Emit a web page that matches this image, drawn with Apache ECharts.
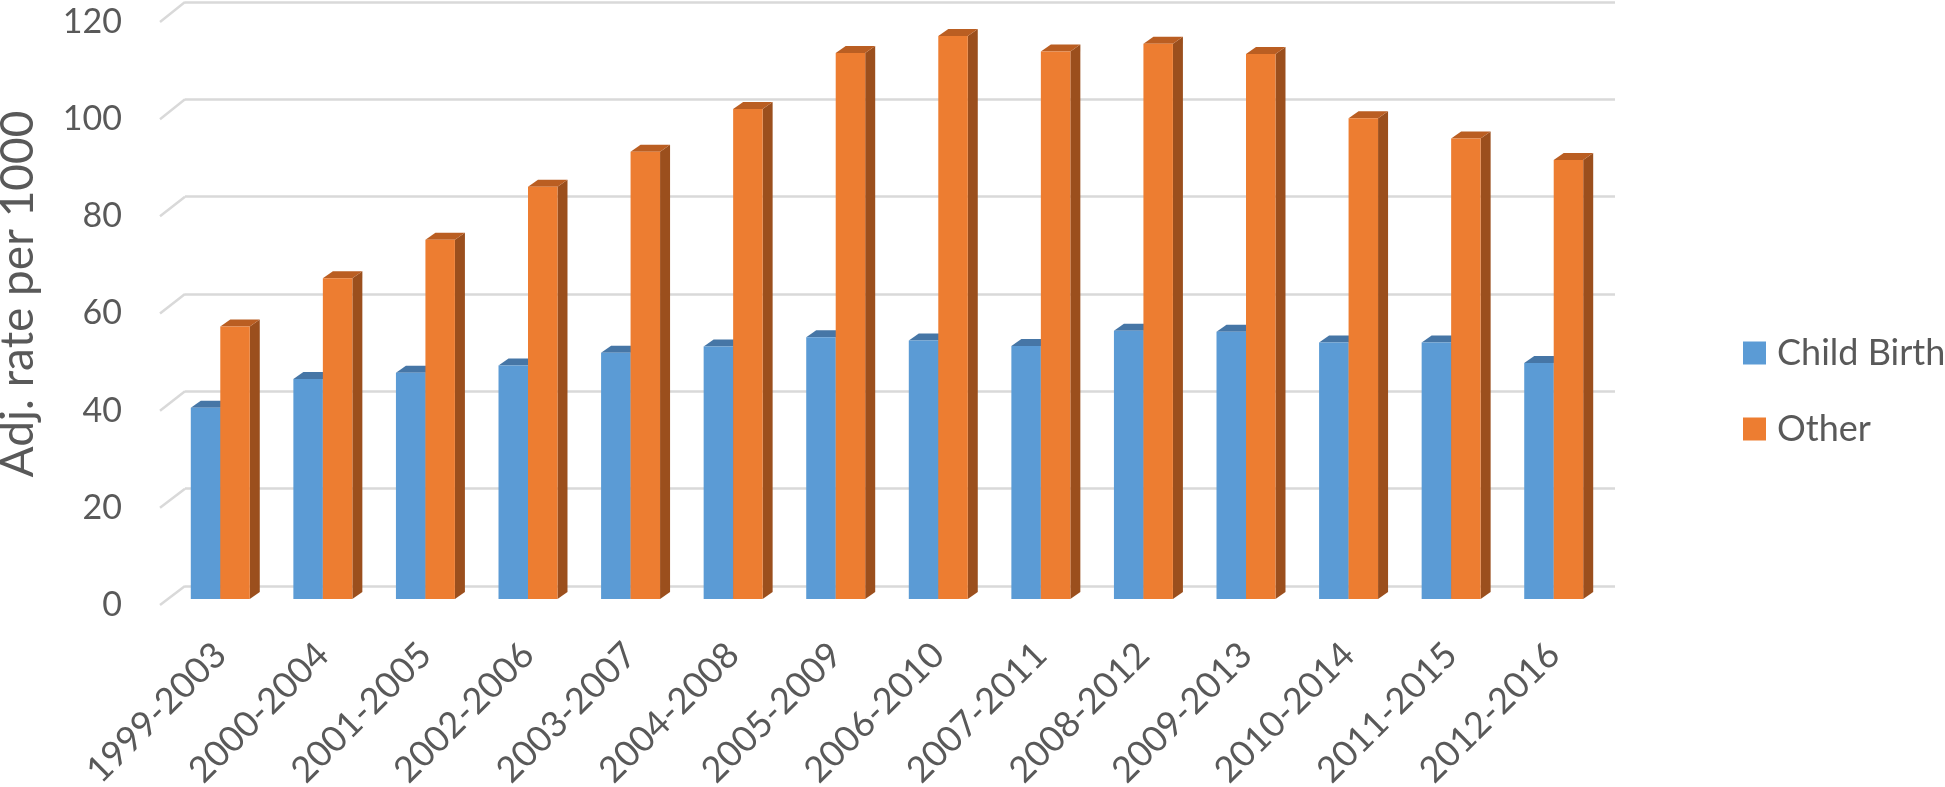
<!DOCTYPE html>
<html>
<head>
<meta charset="utf-8">
<title>Adj. rate per 1000</title>
<script src="https://cdn.jsdelivr.net/npm/echarts@6/dist/echarts.min.js"></script>
<style>
  html, body { margin: 0; padding: 0; background: #ffffff; }
  #chart { width: 1945px; height: 787px; }
</style>
</head>
<body>
<div id="chart"></div>
<script>
// data
const periods = [
  "1999-2003", "2000-2004", "2001-2005", "2002-2006", "2003-2007", "2004-2008", "2005-2009",
  "2006-2010", "2007-2011", "2008-2012", "2009-2013", "2010-2014", "2011-2015", "2012-2016"
];
const childBirth = [39.3, 45.2, 46.5, 48.0, 50.6, 51.9, 53.8, 53.1, 52.0, 55.1, 54.9, 52.7, 52.7, 48.5];
const other = [56.0, 65.9, 73.8, 84.7, 91.9, 100.7, 112.2, 115.7, 112.5, 114.1, 112.0, 98.8, 94.6, 90.2];
const yTicks = [0, 20, 40, 60, 80, 100, 120];

const FONT = "Lato";
const TEXT = "#595959";
const GRID_LINE = "#D9D9D9";

// 3d-ish look of the excel columns
const DEPTH_X = 10;
const DEPTH_Y = 7;
const BAR_RATIO = 0.2875;

const blueFaces = { front: "#5B9BD5", top: "#4676A6", side: "#3E6B96" };
const orangeFaces = { front: "#ED7D31", top: "#BA5E22", side: "#9B4F1D" };

function boxRenderer(toLeft, faces) {
  return function (params, api) {
    const cat = api.value(0);
    const topPt = api.coord([cat, api.value(1)]);
    const basePt = api.coord([cat, 0]);
    const w = api.size([1, 0])[0] * BAR_RATIO;
    const x0 = toLeft ? topPt[0] - w : topPt[0];
    const x1 = x0 + w;
    const y0 = topPt[1];
    const y1 = basePt[1];
    return {
      type: "group",
      children: [
        {
          type: "polygon",
          shape: { points: [[x1, y1], [x1, y0], [x1 + DEPTH_X, y0 - DEPTH_Y], [x1 + DEPTH_X, y1 - DEPTH_Y]] },
          style: { fill: faces.side }
        },
        {
          type: "polygon",
          shape: { points: [[x0, y0], [x1, y0], [x1 + DEPTH_X, y0 - DEPTH_Y], [x0 + DEPTH_X, y0 - DEPTH_Y]] },
          style: { fill: faces.top }
        },
        {
          type: "rect",
          shape: { x: x0, y: y0, width: w, height: y1 - y0 },
          style: { fill: faces.front }
        }
      ]
    };
  };
}

const chart = echarts.init(document.getElementById("chart"));

const option = {
  animation: false,
  backgroundColor: "#ffffff",
  color: [blueFaces.front, orangeFaces.front],
  textStyle: { fontFamily: FONT },
  grid: [
    // bars
    { left: 169, right: 340, top: 15, bottom: 188, outerBoundsMode: "none" },
    // back wall with the gridlines
    { left: 185, right: 330, top: 2, bottom: 201, outerBoundsMode: "none" },
    // front edge carrying the tick labels
    { left: 160, right: 330, top: 22, bottom: 182, outerBoundsMode: "none" }
  ],
  legend: {
    orient: "vertical",
    left: 1738,
    top: 328,
    icon: "rect",
    itemWidth: 23,
    itemHeight: 23,
    itemGap: 36,
    textStyle: { fontFamily: FONT, fontSize: 36, color: TEXT, lineHeight: 40, padding: [0, 0, 0, 6] },
    data: ["Child Birth", "Other"]
  },
  xAxis: [
    {
      gridIndex: 0,
      type: "category",
      data: periods,
      axisLine: { show: false },
      axisTick: { show: false },
      axisLabel: {
        interval: 0,
        rotate: 45,
        margin: 50,
        fontFamily: FONT,
        fontSize: 36,
        color: TEXT
      }
    },
    { gridIndex: 1, type: "value", show: false },
    { gridIndex: 2, type: "value", show: false }
  ],
  yAxis: [
    { gridIndex: 0, type: "value", min: 0, max: 120, interval: 20, show: false },
    {
      gridIndex: 1,
      type: "value",
      min: 0,
      max: 120,
      interval: 20,
      name: "Adj. rate per 1000",
      nameLocation: "middle",
      nameGap: 144,
      nameRotate: 90,
      nameTextStyle: { fontFamily: FONT, fontSize: 46, color: TEXT },
      axisLine: { show: false },
      axisTick: { show: false },
      axisLabel: { show: false },
      splitLine: { show: true, lineStyle: { color: GRID_LINE, width: 2.5 } }
    },
    {
      gridIndex: 2,
      type: "value",
      min: 0,
      max: 120,
      interval: 20,
      axisLine: { show: false },
      axisTick: { show: false },
      splitLine: { show: false },
      axisLabel: { margin: 38, fontFamily: FONT, fontSize: 34, color: TEXT }
    }
  ],
  series: [
    {
      name: "Child Birth",
      type: "custom",
      xAxisIndex: 0,
      yAxisIndex: 0,
      itemStyle: { color: blueFaces.front },
      renderItem: boxRenderer(true, blueFaces),
      encode: { x: 0, y: 1 },
      data: childBirth.map((v, i) => [i, v]),
      z: 3
    },
    {
      name: "Other",
      type: "custom",
      xAxisIndex: 0,
      yAxisIndex: 0,
      itemStyle: { color: orangeFaces.front },
      renderItem: boxRenderer(false, orangeFaces),
      encode: { x: 0, y: 1 },
      data: other.map((v, i) => [i, v]),
      z: 4
    }
  ]
};

chart.setOption(option);

// little slanted ticks joining the labels to the back-wall gridlines
const FRONT_LEFT = 160;
const BACK_LEFT = 185;
const stubs = yTicks.map(function (v) {
  const yFront = chart.convertToPixel({ yAxisIndex: 2 }, v);
  const yBack = chart.convertToPixel({ yAxisIndex: 1 }, v);
  return {
    type: "line",
    shape: { x1: FRONT_LEFT, y1: yFront, x2: BACK_LEFT, y2: yBack },
    style: { stroke: GRID_LINE, lineWidth: 2.5 },
    z: 1
  };
});
chart.setOption({ graphic: stubs });

window.addEventListener("resize", function () {
  chart.resize();
});
</script>
</body>
</html>
